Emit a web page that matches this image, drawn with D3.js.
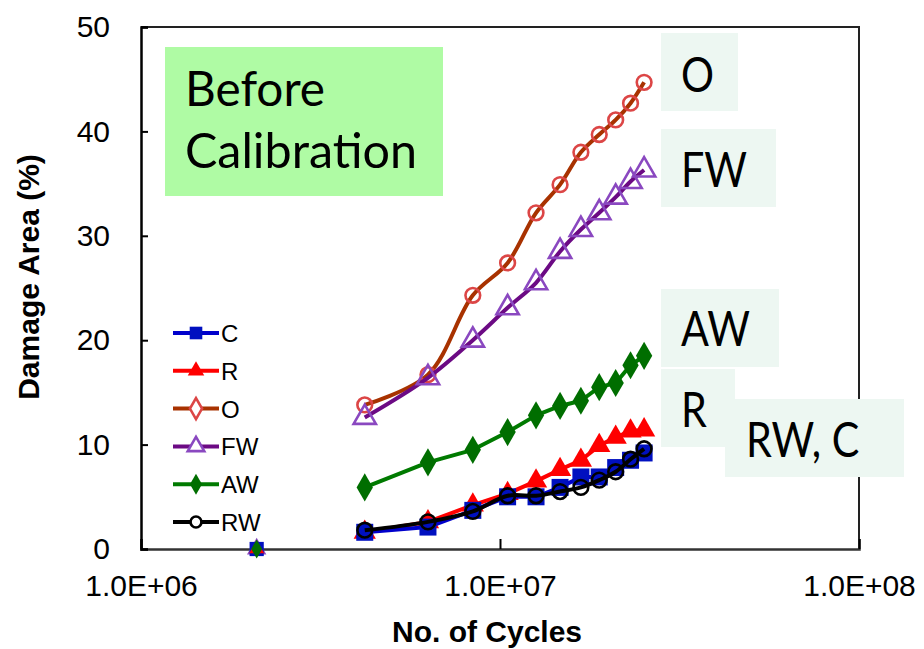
<!DOCTYPE html>
<html><head><meta charset="utf-8">
<script src="https://cdn.jsdelivr.net/npm/d3@7/dist/d3.min.js"></script>
<style>html,body{margin:0;padding:0;background:#fff;}</style>
</head><body>
<svg id="chart" width="924" height="649"></svg>
<script>
// ---- data ----
const cycles = [2.1e6, 4.2e6, 6.3e6, 8.4e6, 1.05e7, 1.26e7, 1.47e7, 1.68e7, 1.89e7, 2.1e7, 2.31e7, 2.52e7];
const seriesC  = [0, 1.6, 2.1, 3.7, 5.0, 5.0, 5.9, 6.9, 6.9, 7.8, 8.5, 9.2];
const seriesR  = [0, 1.6, 2.6, 4.2, 5.3, 6.5, 7.6, 8.5, 9.9, 10.7, 11.3, 11.4];
const seriesO  = [0, 13.8, 16.7, 24.3, 27.4, 32.2, 34.9, 38.0, 39.7, 41.1, 42.7, 44.7];
const seriesFW = [0, 12.6, 16.4, 20.0, 23.1, 25.5, 28.5, 30.6, 32.2, 33.7, 35.2, 36.3];
const seriesAW = [0, 5.9, 8.3, 9.5, 11.2, 12.8, 13.7, 14.2, 15.5, 15.9, 17.6, 18.5];
const seriesRW = [0, 1.8, 2.6, 3.6, 5.1, 5.1, 5.5, 5.9, 6.6, 7.4, 8.6, 9.6];
const seriesNames = ["C", "R", "O", "FW", "AW", "RW"];
const xTicks = [1e6, 1e7, 1e8];
const yTicks = [0, 10, 20, 30, 40, 50];
const calloutLabels = ["O", "FW", "AW", "R", "RW, C"];
const titleLines = ["Before", "Calibration"];

const seriesValues = {C: seriesC, R: seriesR, O: seriesO, FW: seriesFW, AW: seriesAW, RW: seriesRW};
const style = {
  C:  {line: "#0000cc", marker: "square",   fill: "#0010c0", stroke: "none", curve: d3.curveLinear},
  R:  {line: "#ff0000", marker: "triangle", fill: "#ff0000", stroke: "none", curve: d3.curveLinear},
  O:  {line: "#a83200", marker: "circle",   fill: "none", stroke: "#dc4646", curve: d3.curveCatmullRom.alpha(0.5), legendMarker: "diamond"},
  FW: {line: "#6c0a84", marker: "triangle", fill: "none", stroke: "#8a48c0", curve: d3.curveCatmullRom.alpha(0.5)},
  AW: {line: "#007a00", marker: "diamond",  fill: "#006e00", stroke: "none", curve: d3.curveLinear},
  RW: {line: "#000000", marker: "circle",   fill: "none", stroke: "#000000", curve: d3.curveCatmullRom.alpha(0.5), legendFill: "#ffffff"}
};

const svg = d3.select("#chart");
const L = 141, R = 859, T = 27, B = 549;
const x = d3.scaleLog().domain([1e6, 1e8]).range([L, R]);
const y = d3.scaleLinear().domain([0, 50]).range([B, T]);
const FONT = "Liberation Sans, Arial, sans-serif";

const fmtExp = v => {
  const e = Math.round(Math.log10(v));
  const m = v / Math.pow(10, e);
  return m.toFixed(1) + "E+" + String(e).padStart(2, "0");
};

// frame (top & right)
svg.append("path").attr("d", `M${L},${T}H${R}V${B}`).attr("fill", "none").attr("stroke", "#222").attr("stroke-width", 2);

// x axis
const gx = svg.append("g").attr("transform", `translate(0,${B})`)
  .call(d3.axisBottom(x).tickValues(xTicks).tickSize(-10).tickFormat(fmtExp).tickPadding(26));
gx.select(".domain").attr("stroke", "#333").attr("stroke-width", 2.5);
gx.selectAll(".tick line").attr("stroke", "#000").attr("stroke-width", 2);
gx.selectAll(".tick text").attr("font-family", FONT).attr("font-size", 30).attr("fill", "#000");

// y axis
const gy = svg.append("g").attr("transform", `translate(${L},0)`)
  .call(d3.axisLeft(y).tickValues(yTicks).tickSize(-7).tickPadding(31));
gy.select(".domain").attr("stroke", "#000").attr("stroke-width", 2.5);
gy.selectAll(".tick line").attr("stroke", "#000").attr("stroke-width", 2);
gy.selectAll(".tick text").attr("font-family", FONT).attr("font-size", 30).attr("fill", "#000");

// axis titles
svg.append("text").attr("x", 487).attr("y", 642).attr("text-anchor", "middle")
  .attr("font-family", FONT).attr("font-weight", "bold").attr("font-size", 30)
  .text("No. of Cycles");
svg.append("text").attr("transform", "translate(39,277) rotate(-90)").attr("text-anchor", "middle")
  .attr("font-family", FONT).attr("font-weight", "bold").attr("font-size", 30)
  .text("Damage Area (%)");

// markers
const sym = {square: d3.symbolSquare, triangle: d3.symbolTriangle, circle: d3.symbolCircle, diamond: d3.symbolDiamond};
const symSize = {square: 289, triangle: 215, circle: 170, diamond: 230};
function drawMarker(g, kind, s, cx, cy, scale, fillOverride) {
  const k = scale || 1;
  g.append("path").attr("d", d3.symbol().type(sym[kind]).size(symSize[kind] * k)())
    .attr("transform", `translate(${cx},${cy})`)
    .attr("fill", fillOverride || s.fill).attr("stroke", s.stroke).attr("stroke-width", s.stroke === "none" ? 0 : 2.6);
}

// series
const drawOrder = ["O", "FW", "AW", "R", "C", "RW"];
drawOrder.forEach(name => {
  const s = style[name];
  const vals = seriesValues[name];
  const pts = cycles.map((c, i) => ({c, v: vals[i], i}));
  const g = svg.append("g");
  const line = d3.line().x(d => x(d.c)).y(d => y(d.v)).curve(s.curve);
  g.append("path").datum(pts.filter(d => d.i > 0)).attr("d", line)
    .attr("fill", "none").attr("stroke", s.line).attr("stroke-width", 4).attr("stroke-linejoin", "round");
  pts.filter(d => d.i > 0).forEach(d => drawMarker(g, s.marker, s, x(d.c), y(d.v)));
});

// first (zero) point of every series, overlapping
const zeroOrder = ["RW", "O", "FW", "C", "R", "AW"];
const gz = svg.append("g");
zeroOrder.forEach(name => {
  const s = style[name];
  drawMarker(gz, s.marker, s, x(cycles[0]), y(seriesValues[name][0]), name === "C" ? 0.7 : 0.45);
});

// legend
const lg = svg.append("g");
const legY = d3.scalePoint().domain(seriesNames).range([333, 522]);
seriesNames.forEach(name => {
  const s = style[name];
  const yy = legY(name);
  lg.append("line").attr("x1", 173).attr("x2", 219).attr("y1", yy).attr("y2", yy).attr("stroke", s.line).attr("stroke-width", 4);
  drawMarker(lg, s.legendMarker || s.marker, s, 196, yy, 0.55, s.legendFill || (s.fill === "none" ? "#ffffff" : null));
  lg.append("text").attr("x", 221).attr("y", yy + 9).attr("font-family", FONT)
    .attr("font-size", 24).text(name);
});

// "Before Calibration" box
svg.append("rect").attr("x", 165).attr("y", 47).attr("width", 278).attr("height", 149).attr("fill", "#affba4");
const tb = [[185, 106, 140], [185, 168, 232]];
titleLines.forEach((t, i) => {
  svg.append("text").attr("x", tb[i][0]).attr("y", tb[i][1]).attr("font-family", "Lato, 'Open Sans', sans-serif")
    .attr("font-size", 48).attr("textLength", tb[i][2]).attr("lengthAdjust", "spacingAndGlyphs").text(t);
});

// callout labels
const boxes = [[661, 33, 77, 78], [661, 129, 115, 78], [661, 289, 118, 78], [661, 369, 74, 78], [725, 399, 179, 78]];
const txt = [[681, 92], [681, 187], [681, 346], [681, 427], [746, 457]];
calloutLabels.forEach((t, i) => {
  const b = boxes[i];
  svg.append("rect").attr("x", b[0]).attr("y", b[1]).attr("width", b[2]).attr("height", b[3]).attr("fill", "#edf7f2");
  svg.append("text").attr("transform", `translate(${txt[i][0]},${txt[i][1]}) scale(0.86,1)`)
    .attr("font-family", "Lato, 'Open Sans', sans-serif").attr("font-size", 48).text(t);
});
</script>
</body></html>
